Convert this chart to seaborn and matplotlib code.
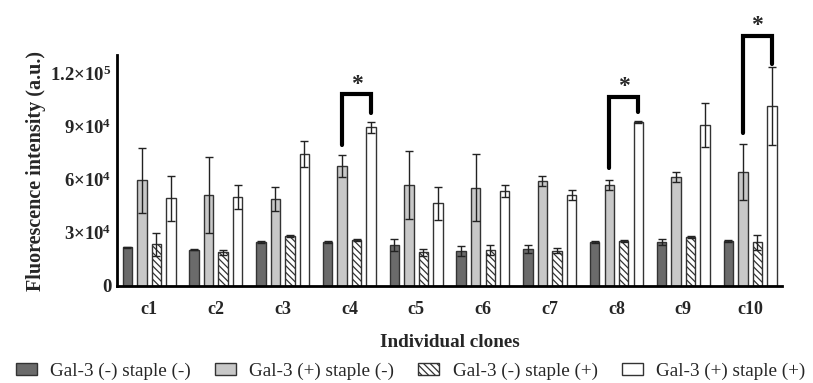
import numpy as np
import pandas as pd
import matplotlib
matplotlib.use("Agg")
import matplotlib.pyplot as plt
import seaborn as sns
from matplotlib.patches import Patch

sns.set_style("white")
plt.rcParams['font.family'] = ['Liberation Serif', 'DejaVu Serif']
plt.rcParams['mathtext.fontset'] = 'custom'
plt.rcParams['mathtext.rm'] = 'Liberation Serif'
plt.rcParams['mathtext.bf'] = 'Liberation Serif:bold'
plt.rcParams['hatch.linewidth'] = 0.9

# ---------------- data ----------------
clones = ['c1', 'c2', 'c3', 'c4', 'c5', 'c6', 'c7', 'c8', 'c9', 'c10']
groups = ['Gal-3 (-) staple (-)', 'Gal-3 (+) staple (-)',
          'Gal-3 (-) staple (+)', 'Gal-3 (+) staple (+)']

g3neg_stneg = [21800, 20500, 24800, 24800, 23300, 19900, 20800, 24600, 24800, 25400]
g3neg_stneg_err = [400, 300, 400, 300, 3300, 2800, 2300, 500, 1700, 500]
g3pos_stneg = [59500, 51100, 49000, 67600, 56900, 55400, 59200, 56700, 61600, 64200]
g3pos_stneg_err = [18500, 21400, 7000, 6000, 19300, 19000, 3000, 2800, 2800, 16000]
g3neg_stpos = [23500, 19000, 28000, 25900, 19000, 20300, 19900, 25400, 27600, 24600]
g3neg_stpos_err = [6500, 1500, 500, 400, 2000, 2800, 1300, 400, 400, 4300]
g3pos_stpos = [49400, 50100, 74500, 89400, 46600, 53500, 51400, 92600, 90700, 101400]
g3pos_stpos_err = [12500, 6800, 7200, 3000, 9400, 3600, 2700, 600, 12200, 21800]

ytick_vals = [0, 30000, 60000, 90000, 120000]
ytick_labels = ['0', r'$\mathbf{3{\times}10^4}$', r'$\mathbf{6{\times}10^4}$',
                r'$\mathbf{9{\times}10^4}$', r'$\mathbf{1.2{\times}10^5}$']

# significance brackets (clone index, left base, right base, top)
sig_idx = [3, 7, 9]
sig_left_base = [79400, 66300, 86400]
sig_right_base = [97500, 98200, 125100]
sig_top = [108200, 106700, 141000]

colors = ['#6b6b6b', '#c8c8c8', '#ffffff', '#ffffff']
edge = '#333333'

values = [g3neg_stneg, g3pos_stneg, g3neg_stpos, g3pos_stpos]
errors = [g3neg_stneg_err, g3pos_stneg_err, g3neg_stpos_err, g3pos_stpos_err]

rows = []
for g, vals in zip(groups, values):
    for c, v in zip(clones, vals):
        rows.append({'clone': c, 'group': g, 'value': v})
df = pd.DataFrame(rows)

# ---------------- figure ----------------
fig = plt.figure(figsize=(8.13, 3.83), dpi=100)
ax = fig.add_axes([0.144, 0.2533, 0.818, 0.602])

sns.barplot(data=df, x='clone', y='value', hue='group', order=clones,
            hue_order=groups, palette=colors, width=0.87, gap=0.35,
            errorbar=None, edgecolor=edge, linewidth=1.0, ax=ax, legend=False,
            saturation=1)

bar_conts = list(ax.containers)
hatch = '\\' * 5
for i, cont in enumerate(bar_conts):
    for j, p in enumerate(cont.patches):
        if i == 2:
            p.set_hatch(hatch)
        xc = p.get_x() + p.get_width() / 2
        ax.errorbar(xc, p.get_height(), yerr=errors[i][j], fmt='none',
                    ecolor='#222222', elinewidth=1.0, capsize=2.8, capthick=1.0,
                    zorder=5)

# brackets
for k, ci in enumerate(sig_idx):
    pl = bar_conts[1].patches[ci]
    pr = bar_conts[3].patches[ci]
    xl = pl.get_x() + pl.get_width() / 2
    xr = pr.get_x() + pr.get_width() / 2
    ax.plot([xl, xl, xr, xr], [sig_left_base[k], sig_top[k], sig_top[k], sig_right_base[k]],
            color='black', lw=3.0, solid_joinstyle='miter', clip_on=False, zorder=6)
    ax.text((xl + xr) / 2, sig_top[k] - 300, '*', ha='center', va='bottom',
            fontsize=17, fontweight='bold', clip_on=False)

ax.set_xlim(-0.48, 9.48)
ax.set_ylim(0, 130000)
ax.set_yticks(ytick_vals)
ax.set_yticklabels(ytick_labels)

for s in ['top', 'right']:
    ax.spines[s].set_visible(False)
for s in ['left', 'bottom']:
    ax.spines[s].set_linewidth(2.0)
    ax.spines[s].set_color('black')

ax.tick_params(axis='x', which='major', direction='out', length=7, width=2,
               color='black', labelsize=13, pad=4)
ax.tick_params(axis='y', which='major', length=0, labelsize=13.5, pad=4)
for t in ax.get_xticklabels():
    t.set_fontweight('bold')
for t in ax.get_yticklabels():
    t.set_fontweight('bold')

ax.set_xlabel('Individual clones', fontsize=13.8, fontweight='bold', labelpad=11)
ax.set_ylabel('Fluorescence intensity (a.u.)', fontsize=14.5, fontweight='bold', labelpad=3)

handles = []
for i, g in enumerate(groups):
    handles.append(Patch(facecolor=colors[i], edgecolor=edge, linewidth=1.0,
                         hatch=hatch if i == 2 else None, label=g))
fig.legend(handles=handles, loc='center', bbox_to_anchor=(0.505, 1 - 371 / 383),
           ncol=4, frameon=False, fontsize=13.8, handlelength=1.1, handleheight=0.6,
           handletextpad=0.7, columnspacing=1.25, borderaxespad=0, borderpad=0)

fig.savefig('out.png', dpi=100)
